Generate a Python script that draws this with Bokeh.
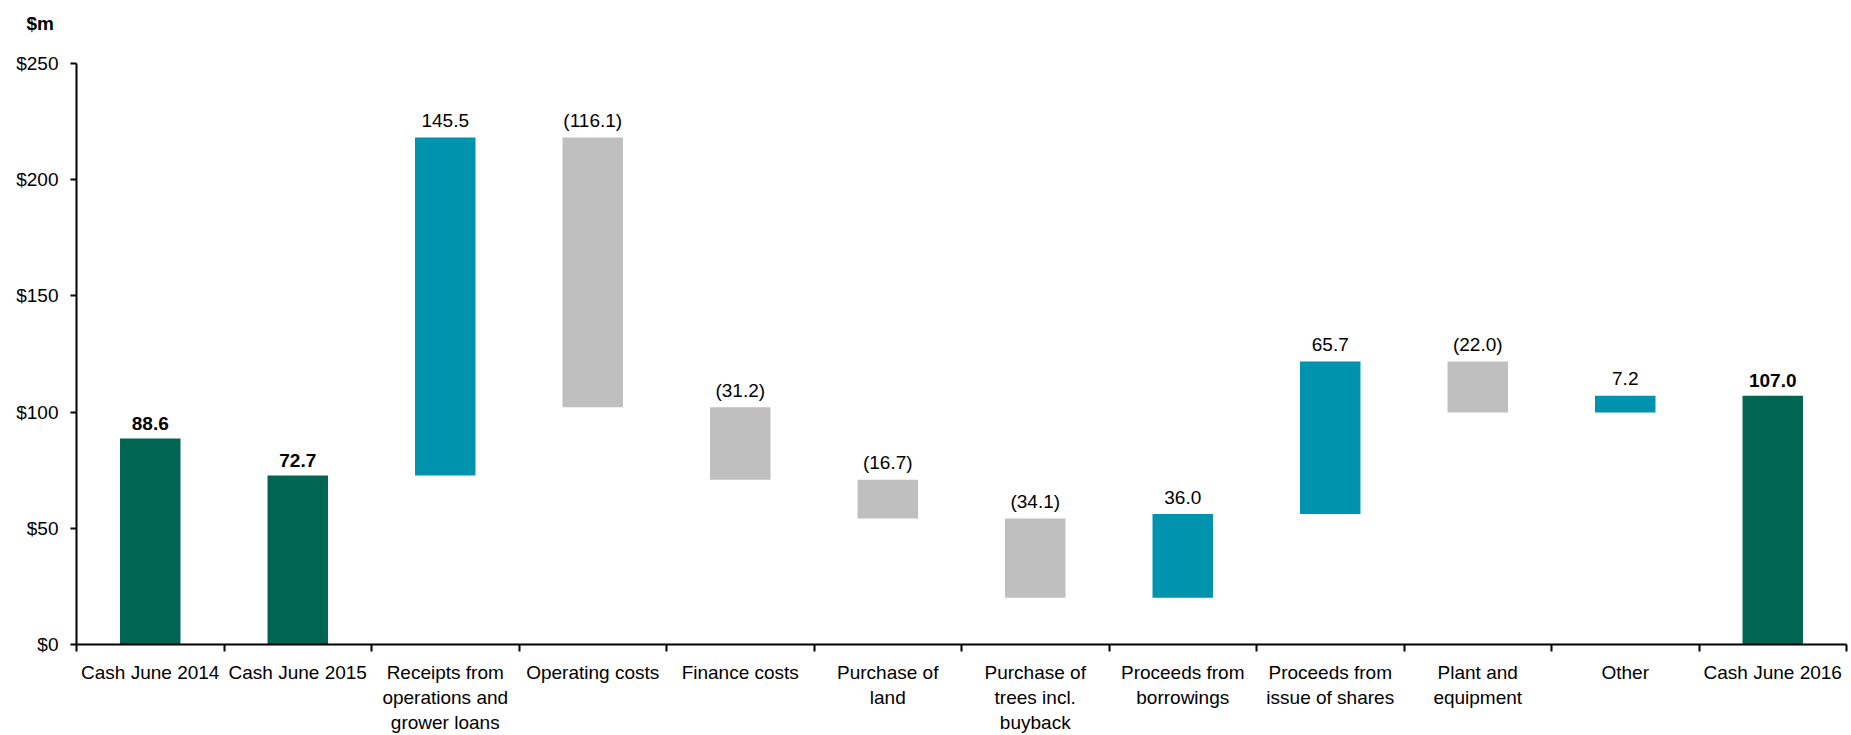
from bokeh.plotting import figure
from bokeh.models import Range1d, FixedTicker, ColumnDataSource
from bokeh.core.properties import value
from bokeh.embed import file_html
from bokeh.resources import INLINE

# ---- data ----
categories = ["Cash June 2014", "Cash June 2015", "Receipts from\noperations and\ngrower loans",
              "Operating costs", "Finance costs", "Purchase of\nland",
              "Purchase of\ntrees incl.\nbuyback", "Proceeds from\nborrowings",
              "Proceeds from\nissue of shares", "Plant and\nequipment", "Other", "Cash June 2016"]
values = [88.6, 72.7, 145.5, -116.1, -31.2, -16.7, -34.1, 36.0, 65.7, -22.0, 7.2, 107.0]
kinds = ["total", "total", "delta", "delta", "delta", "delta", "delta", "delta",
         "delta", "delta", "delta", "total"]
y_ticks = [0, 50, 100, 150, 200, 250]
y_tick_labels = ["$0", "$50", "$100", "$150", "$200", "$250"]
unit_label = "$m"

colors = {"total": "#006652", "up": "#0093AD", "down": "#BFBFBF"}

# ---- waterfall computation ----
xs, bottoms, tops, fills, labels, label_y, weights, yoffs = [], [], [], [], [], [], [], []
running = 0.0
for i, (v, k) in enumerate(zip(values, kinds)):
    xs.append(i + 0.5)
    if k == "total":
        b, t = 0.0, v
        running = v
        fills.append(colors["total"])
        labels.append(f"{v:.1f}")
        weights.append("bold")
        yoffs.append(-15)
    else:
        start = running
        running = running + v
        b, t = min(start, running), max(start, running)
        fills.append(colors["up"] if v >= 0 else colors["down"])
        labels.append(f"{v:.1f}" if v >= 0 else f"({abs(v):.1f})")
        weights.append("normal")
        yoffs.append(-17)
    bottoms.append(b)
    tops.append(t)
    label_y.append(t)

src = ColumnDataSource(dict(x=xs, bottom=bottoms, top=tops, fill=fills,
                            label=labels, ly=label_y, weight=weights, yoff=yoffs))

p = figure(width=1851, height=735, output_backend="svg", toolbar_location=None,
           x_range=Range1d(0, len(categories)), y_range=Range1d(0, 250),
           min_border_left=76, min_border_right=5, min_border_top=63, min_border_bottom=87)
p.outline_line_color = None
p.xgrid.visible = False
p.ygrid.visible = False
p.background_fill_color = "white"
p.border_fill_color = "white"

# unit label: a second blank line lifts "$m" towards the top of the page
p.title.text = unit_label + "\n "
p.title.text_font = "Liberation Sans"
p.title.text_font_size = "19px"
p.title.text_font_style = "bold"
p.title.text_color = "black"
p.title.text_line_height = 1.0
p.title.align = "left"
p.title.offset = -50
p.title.standoff = 18

p.vbar(x="x", bottom="bottom", top="top", width=0.41, fill_color="fill",
       line_color=None, source=src)

p.text(x="x", y="ly", text="label", source=src, text_align="center",
       text_baseline="alphabetic", y_offset="yoff", text_font=value("Liberation Sans"),
       text_font_size="19px", text_font_style="weight", text_color="black")

# x axis: labels centred in categories, tick marks on boundaries
xa = p.xaxis[0]
xa.ticker = FixedTicker(ticks=xs, minor_ticks=list(range(len(categories) + 1)))
xa.major_label_overrides = {x: c for x, c in zip(xs, categories)}
xa.major_tick_out = 0
xa.major_tick_in = 0
xa.minor_tick_out = 7
xa.minor_tick_in = 0
xa.minor_tick_line_width = 2
xa.minor_tick_line_color = "black"
xa.axis_line_width = 2
xa.axis_line_color = "black"
xa.major_label_standoff = 10
xa.major_label_text_font = "Liberation Sans"
xa.major_label_text_font_size = "19px"
xa.major_label_text_color = "black"

ya = p.yaxis[0]
ya.ticker = FixedTicker(ticks=y_ticks)
ya.major_label_overrides = {t: l for t, l in zip(y_ticks, y_tick_labels)}
ya.minor_tick_out = 0
ya.minor_tick_in = 0
ya.major_tick_out = 6
ya.major_tick_in = 0
ya.major_tick_line_width = 2
ya.axis_line_width = 2
ya.axis_line_color = "black"
ya.major_label_standoff = 12
ya.major_label_text_font = "Liberation Sans"
ya.major_label_text_font_size = "19px"
ya.major_label_text_color = "black"

open("out.html", "w").write(file_html(p, INLINE))
